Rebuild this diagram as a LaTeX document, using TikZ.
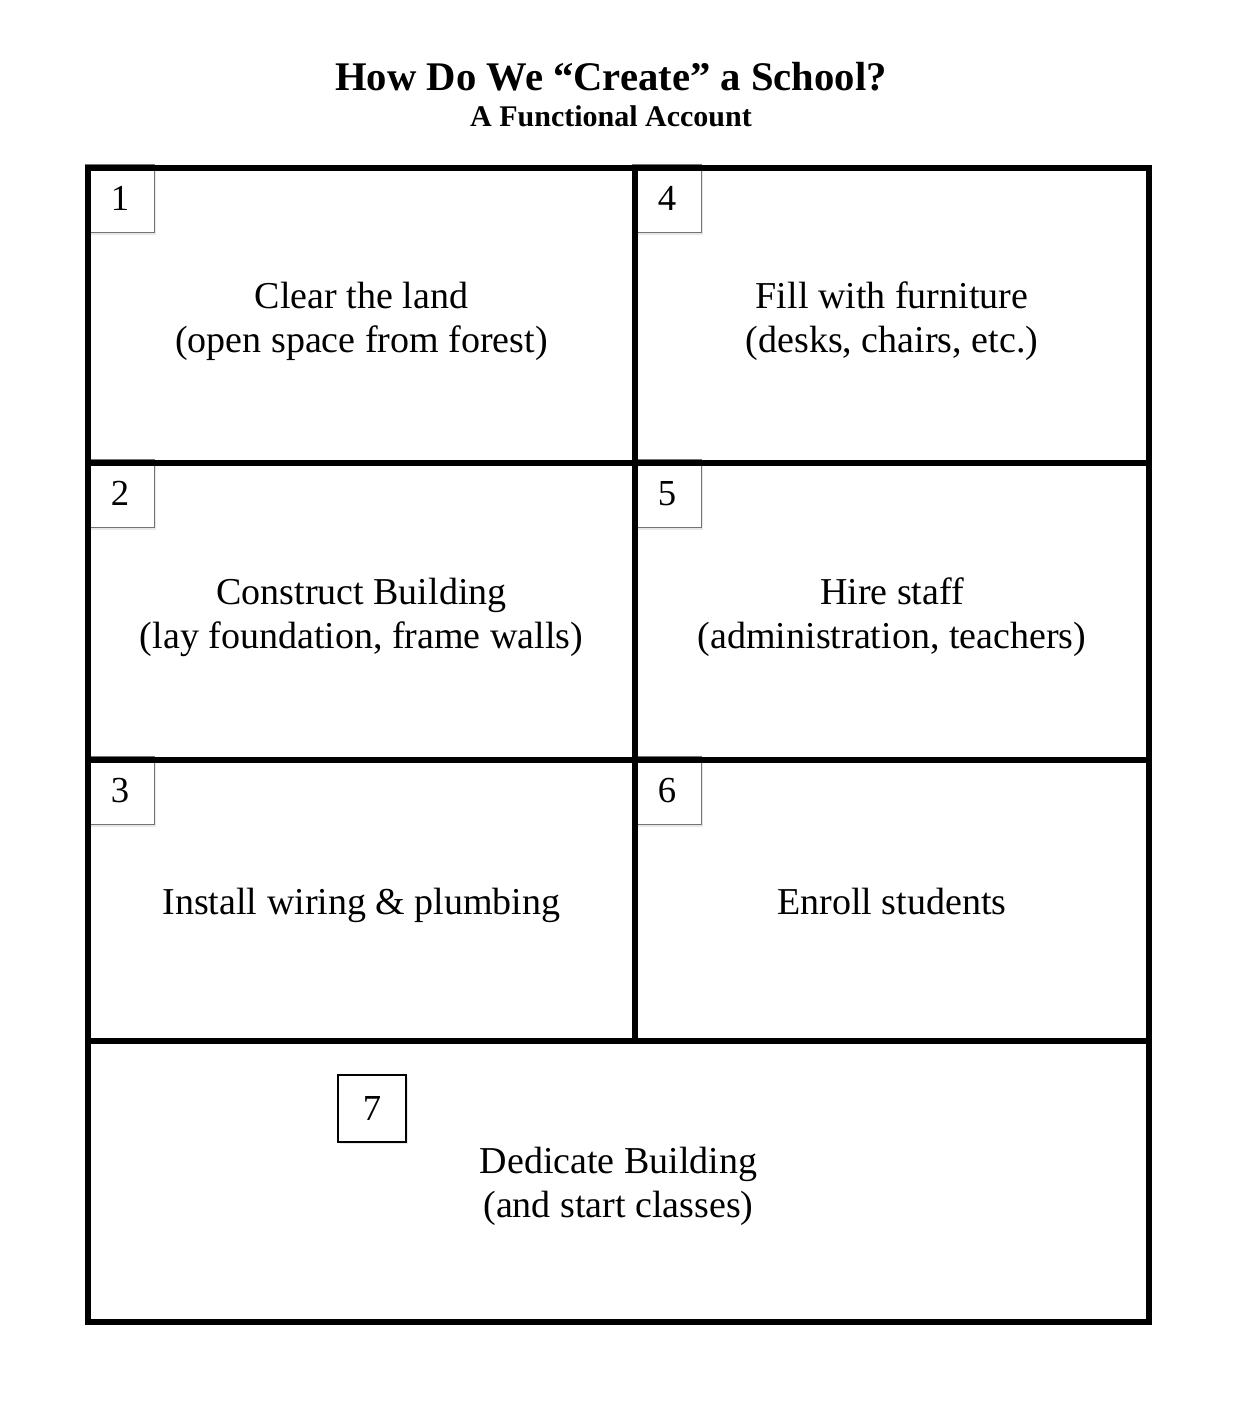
\documentclass[tikz,border=0pt]{standalone}
\usepackage{fontspec}
\setmainfont{Liberation Serif}
\usetikzlibrary{positioning,shadows,backgrounds}

\tikzset{
  cell/.style={draw, rectangle, line width=4.5pt, inner sep=0pt},
  celltext/.style={align=center, inner sep=0pt, font=\fontsize{28.5}{33}\selectfont},
  numbox/.style={draw=black!55, line width=0.6pt, fill=white, minimum width=52pt,
    minimum height=51pt, inner sep=0pt, font=\fontsize{27.5}{30}\selectfont,
    drop shadow={opacity=0.18, shadow xshift=1.2pt, shadow yshift=-1.8pt}},
  heading/.style={font=\bfseries\fontsize{30.5}{34}\selectfont},
  subheading/.style={font=\bfseries\fontsize{22.5}{26}\selectfont}
}

\begin{document}
\begin{tikzpicture}[x=0.75pt,y=0.75pt,yscale=-1,xscale=1]
\useasboundingbox (0,0) rectangle (1252,1428);

% Title
\node[heading] (title) at (611,77) {How Do We “Create” a School?};
\node[subheading] (subtitle) at (611,116) {A Functional Account};

% Cells, left column
\node[cell, minimum width=410.25pt, minimum height=221.25pt] (c1) at (361.5,315.5) {};
\node[cell, minimum width=410.25pt, minimum height=222.75pt] (c2) at (361.5,611.5) {};
\node[cell, minimum width=410.25pt, minimum height=210.75pt] (c3) at (361.5,900.5) {};
% Cells, right column
\node[cell, minimum width=385.5pt, minimum height=221.25pt] (c4) at (892,315.5) {};
\node[cell, minimum width=385.5pt, minimum height=222.75pt] (c5) at (892,611.5) {};
\node[cell, minimum width=385.5pt, minimum height=210.75pt] (c6) at (892,900.5) {};
% Bottom cell
\node[cell, minimum width=795.75pt, minimum height=210.75pt] (c7) at (618.5,1181.5) {};

% Cell texts (y axis points down here)
\node[celltext] (t1) at ([yshift=4.5pt]c1.center) {Clear the land\\(open space from forest)};
\node[celltext] (t2) at ([yshift=4.5pt]c2.center) {Construct Building\\(lay foundation, frame walls)};
\node[celltext] (t3) at ([yshift=3.75pt]c3.center) {Install wiring \& plumbing};
\node[celltext] (t4) at ([yshift=4.5pt]c4.center) {Fill with furniture\\(desks, chairs, etc.)};
\node[celltext] (t5) at ([yshift=4.5pt]c5.center) {Hire staff\\(administration, teachers)};
\node[celltext] (t6) at ([yshift=0.75pt]c6.center) {Enroll students};
\node[celltext] (t7) at ([yshift=3.75pt]c7.center) {Dedicate Building\\(and start classes)};

% Number boxes
\begin{scope}[on background layer]
\foreach \i in {1,...,6}
  \node[numbox, anchor=north west] (n\i) at ([yshift=-0.75pt]c\i.north west) {\i};
\end{scope}
\node[numbox, draw=black, line width=1.4pt, minimum width=51pt, minimum height=50pt] (n7) at (372,1108.5) {7};
\end{tikzpicture}
\end{document}
